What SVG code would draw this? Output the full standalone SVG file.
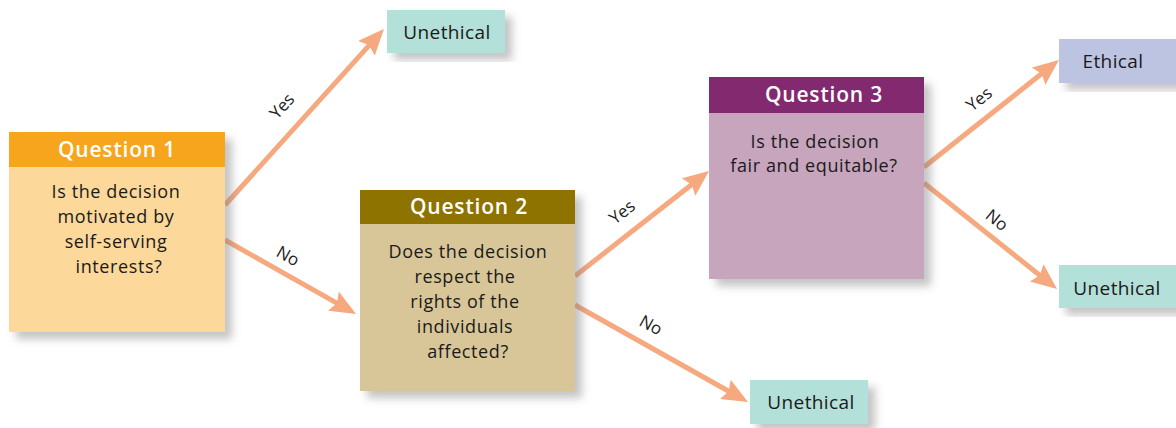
<svg xmlns="http://www.w3.org/2000/svg" width="1176" height="428" viewBox="0 0 1176 428">
<defs>
<filter id="sh" x="-10%" y="-10%" width="130%" height="130%">
<feDropShadow dx="7" dy="7" stdDeviation="4" flood-color="#7a7a7a" flood-opacity="0.45"/>
</filter>
<marker id="ah" markerUnits="userSpaceOnUse" markerWidth="30" markerHeight="24" refX="11" refY="11" orient="auto">
<path d="M0,0 L26,11 L0,22 L4,11 z" fill="#F6A87F"/>
</marker>
</defs>
<style>
.conn line{stroke:#F6A87F;stroke-width:5;marker-end:url(#ah)}
.lbl{font-family:"Open Sans","Liberation Sans",sans-serif;font-size:17px;font-weight:400;fill:#222;text-anchor:middle}
.hd{font-family:"Open Sans","Liberation Sans",sans-serif;font-size:21px;font-weight:600;fill:#fff;text-anchor:middle;letter-spacing:0.8px}
.bd{font-family:"Open Sans","Liberation Sans",sans-serif;font-size:18px;fill:#1a1a1a;text-anchor:middle;letter-spacing:0.6px}
.out{font-family:"Open Sans","Liberation Sans",sans-serif;font-size:19px;fill:#1a1a1a;text-anchor:middle;letter-spacing:0.4px}
</style>
<rect width="1176" height="428" fill="#fff"/>
<g id="connectors" class="conn">
<line x1="225" y1="205" x2="373.9" y2="40.1"/>
<line x1="225" y1="240" x2="343" y2="306.6"/>
<line x1="575" y1="276" x2="697.2" y2="180.3"/>
<line x1="575" y1="305" x2="734.9" y2="394.7"/>
<line x1="924" y1="167" x2="1047.2" y2="69.3"/>
<line x1="924" y1="183" x2="1045.3" y2="279.7"/>
<text class="lbl" transform="translate(282,106) rotate(-48)" y="6">Yes</text>
<text class="lbl" transform="translate(288,256) rotate(29.5)" y="6">No</text>
<text class="lbl" transform="translate(622,212) rotate(-38)" y="6">Yes</text>
<text class="lbl" transform="translate(651,325) rotate(29)" y="6">No</text>
<text class="lbl" transform="translate(979,99) rotate(-38)" y="6">Yes</text>
<text class="lbl" transform="translate(997,220) rotate(38.5)" y="6">No</text>
</g>
<g id="q1">
<rect x="9" y="132" width="216" height="200" fill="#FDD89B" filter="url(#sh)"/>
<rect x="9" y="132" width="216" height="35" fill="#F7A51C"/>
<text class="hd" x="117" y="157">Question 1</text>
<text class="bd" x="116" y="198">Is the decision</text>
<text class="bd" x="116" y="223">motivated by</text>
<text class="bd" x="116" y="248">self-serving</text>
<text class="bd" x="119" y="273">interests?</text>
</g>
<g id="q2">
<rect x="360" y="190" width="215" height="201" fill="#D9C698" filter="url(#sh)"/>
<rect x="360" y="190" width="215" height="34" fill="#8F7300"/>
<text class="hd" x="469" y="214">Question 2</text>
<text class="bd" x="468" y="258">Does the decision</text>
<text class="bd" x="465" y="283">respect the</text>
<text class="bd" x="465" y="308">rights of the</text>
<text class="bd" x="465" y="333">individuals</text>
<text class="bd" x="468" y="358">affected?</text>
</g>
<g id="q3">
<rect x="709" y="77" width="215" height="202" fill="#C7A5BD" filter="url(#sh)"/>
<rect x="709" y="77" width="215" height="36" fill="#83296F"/>
<text class="hd" x="824" y="102">Question 3</text>
<text class="bd" x="815" y="148">Is the decision</text>
<text class="bd" x="814" y="172">fair and equitable?</text>
</g>
<g id="unethical1">
<rect x="387" y="10" width="118" height="43" fill="#B3E0D9" filter="url(#sh)"/>
<text class="out" x="447" y="39">Unethical</text>
</g>
<g id="ethical">
<rect x="1059" y="39" width="120" height="44" fill="#BCC4E2" filter="url(#sh)"/>
<text class="out" x="1113" y="68">Ethical</text>
</g>
<g id="unethical2">
<rect x="1059" y="265" width="120" height="43" fill="#B3E0D9" filter="url(#sh)"/>
<text class="out" x="1117" y="295">Unethical</text>
</g>
<g id="unethical3">
<rect x="750" y="380" width="118" height="44" fill="#B3E0D9" filter="url(#sh)"/>
<text class="out" x="811" y="409">Unethical</text>
</g>
</svg>
